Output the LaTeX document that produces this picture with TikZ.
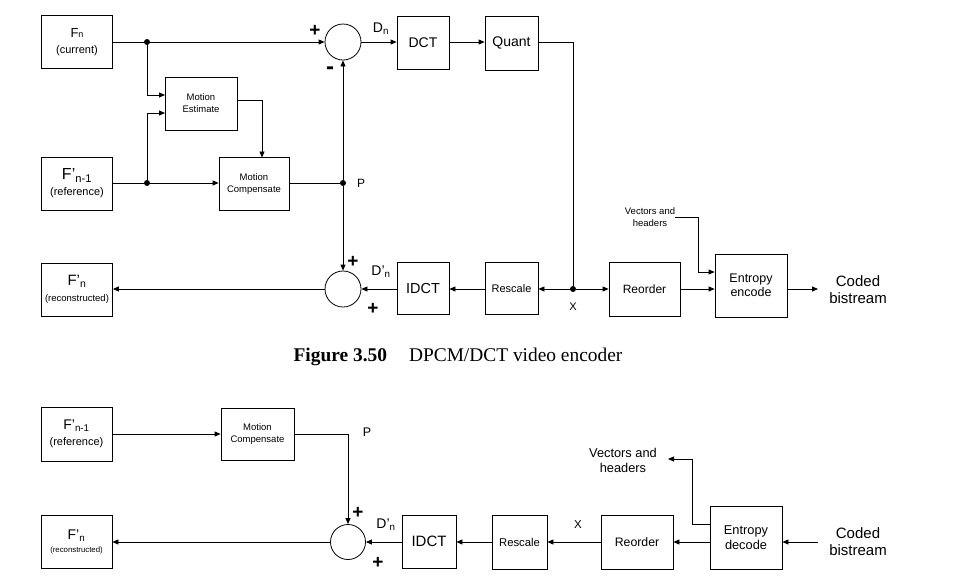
\documentclass[tikz,border=0pt]{standalone}
\usepackage{fontspec}
\setmainfont{Liberation Sans}
\newfontfamily\capfont{Liberation Serif}
\usetikzlibrary{arrows.meta}
\newcommand\fs[2]{\fontsize{#1}{#2}\selectfont}
\tikzset{
  blk/.style={draw, line width=0.8pt, align=center, inner sep=1pt},
  dot/.style={circle, fill, inner sep=0pt, minimum size=6pt},
  sumc/.style={draw, circle, line width=0.8pt, inner sep=0pt, minimum size=36pt},
  lbl/.style={inner sep=0pt, align=center},
  sgn/.style={inner sep=0pt, font=\fs{19}{19}\bfseries},
  arr/.style={-{Triangle[length=6pt,width=5pt]}, line width=0.8pt},
  ln/.style={line width=0.8pt}
}
\begin{document}
\begin{tikzpicture}[x=1pt,y=-1pt]
\useasboundingbox (0,0) rectangle (971,587);
% ---------------- encoder ----------------
\node[blk, minimum width=71pt, minimum height=53pt, font=\fs{11}{12}] (Fn) at (77,42) {\fs{13}{14}F{\fs{9}{9}n}\\[4pt](current)};
\node[blk, minimum width=71pt, minimum height=53pt, font=\fs{11}{12}] (Fnm1) at (77,183.5) {\fs{16}{15}F’\textsubscript{n-1}\\[4pt](reference)};
\node[blk, minimum width=71pt, minimum height=53pt, font=\fs{9.5}{10}] (Fr) at (77,289.5) {\fs{15}{13}F’\textsubscript{n}\\[6pt](reconstructed)};
\node[blk, minimum width=72pt, minimum height=53pt, font=\fs{9.5}{12}] (ME) at (201,103.5) {Motion\\Estimate};
\node[blk, minimum width=70pt, minimum height=53pt, font=\fs{9.5}{12}] (MC) at (254,184) {Motion\\Compensate};
\node[sumc] (s1) at (343,42) {};
\node[blk, minimum width=52pt, minimum height=53pt, font=\fs{14}{14}] (DCT) at (423,43) {DCT};
\node[blk, minimum width=53pt, minimum height=54pt, font=\fs{14}{14}] (Q) at (511.5,43) {Quant};
\node[dot] (j1) at (147,42) {};
\node[dot] (j2) at (147,183) {};
\node[dot] (P) at (343,183) {};
\node[dot] (X) at (573,289) {};
\node[sumc] (s2) at (343,289) {};
\node[blk, minimum width=52pt, minimum height=52pt, font=\fs{14.5}{14}] (IDCT) at (423,288.5) {IDCT};
\node[blk, minimum width=53pt, minimum height=52pt, font=\fs{11}{12}] (Rs) at (511.5,288.5) {Rescale};
\node[blk, minimum width=71pt, minimum height=54pt, font=\fs{12}{12}] (Ro) at (644.5,289.5) {Reorder};
\node[blk, minimum width=72pt, minimum height=63pt, font=\fs{12.5}{14}] (EE) at (751,285.5) {Entropy\\encode};
\node[lbl, font=\fs{15}{17}] (cb) at (858,290) {Coded\\bistream};
\node[lbl, font=\fs{9.5}{12}] (vh) at (650,217) {Vectors and\\headers};
\node[sgn] at (315,31) {+};
\node[sgn, font=\fs{24}{24}\bfseries] at (330,71) {-};
\node[lbl, font=\fs{14}{14}] at (381,29) {D\textsubscript{n}};
\node[lbl, font=\fs{12}{12}] at (361,183) {P};
\node[sgn] at (353,262) {+};
\node[sgn] at (373,309) {+};
\node[lbl, font=\fs{14}{14}] at (381,272) {D’\textsubscript{n}};
\node[lbl, font=\fs{11}{11}] at (573,307) {X};
\coordinate (me1) at (165,95);
\coordinate (me2) at (165,113);
\coordinate (meo) at (237,100);
\coordinate (mct) at (262,157.5);
\coordinate (vhc) at (698,272);
\coordinate (cbin) at (818,289);
\draw[arr] (Fn) -- (s1);
\draw[arr] (j1) |- (me1);
\draw[arr] (j2) |- (me2);
\draw[arr] (Fnm1.east |- j2) -- (MC.west |- j2);
\draw[arr] (meo) -| (mct);
\draw[ln] (MC.east |- P) -- (P);
\draw[arr] (P) -- (s1);
\draw[arr] (P) -- (s2);
\draw[arr] (s1) -- (s1 -| DCT.west);
\draw[arr] (DCT.east |- s1) -- (s1 -| Q.west);
\draw[ln] (Q.east |- s1) -| (X);
\draw[arr] (X) -- (X -| Rs.east);
\draw[arr] (X) -- (X -| Ro.west);
\draw[arr] (Rs.west |- X) -- (X -| IDCT.east);
\draw[arr] (IDCT.west |- X) -- (s2);
\draw[arr] (s2) -- (s2 -| Fr.east);
\draw[arr] (Ro.east |- X) -- (X -| EE.west);
\draw[arr] (vh.east) -| (vhc) -- (vhc -| EE.west);
\draw[arr] (EE.east |- X) -- (cbin);
% caption
\node[lbl, font=\capfont\fs{19.4}{19}] at (458,357) {\textbf{Figure 3.50}\hspace{22pt}DPCM/DCT video encoder};
% ---------------- decoder ----------------
\node[blk, minimum width=71pt, minimum height=54pt, font=\fs{11}{12}] (Fnm1b) at (76.5,434) {\fs{14}{14}F'\textsubscript{n-1}\\[4pt](reference)};
\node[blk, minimum width=73pt, minimum height=52pt, font=\fs{9.5}{12}] (MCb) at (257.5,434) {Motion\\Compensate};
\node[sumc, minimum size=35pt] (s3) at (348,542) {};
\node[blk, minimum width=71pt, minimum height=53pt, font=\fs{7.8}{8}] (Frb) at (76.5,541.5) {\fs{14}{12}F'\textsubscript{n}\\[5pt](reconstructed)};
\node[blk, minimum width=54pt, minimum height=53pt, font=\fs{15}{15}] (IDCTb) at (429,541.5) {IDCT};
\node[blk, minimum width=55pt, minimum height=54pt, font=\fs{11.3}{12}] (Rsb) at (519.5,542) {Rescale};
\node[blk, minimum width=72pt, minimum height=54pt, font=\fs{12.3}{12}] (Rob) at (637,542) {Reorder};
\node[blk, minimum width=72pt, minimum height=63pt, font=\fs{12.8}{15}] (EDb) at (746,537.5) {Entropy\\decode};
\node[lbl, font=\fs{15}{17}] (cbb) at (858,542) {Coded\\bistream};
\node[lbl, font=\fs{12.8}{15}] (vhb) at (623,460) {Vectors and\\headers};
\node[lbl, font=\fs{12.5}{12}] at (367,432) {P};
\node[lbl, font=\fs{11.5}{11}] at (578,525) {X};
\node[sgn] at (358,513) {+};
\node[sgn] at (378,563) {+};
\node[lbl, font=\fs{14}{14}] at (386,525) {D'\textsubscript{n}};
\coordinate (cbin2) at (818,542);
\coordinate (edo) at (746,524);
\coordinate (vc2) at (692,459);
\coordinate (vha) at (668,459);
\draw[arr] (Fnm1b) -- (MCb);
\draw[arr] (MCb) -| (s3);
\draw[arr] (cbin2) -- (cbin2 -| EDb.east);
\draw[arr] (EDb.west |- edo) -| (vc2) -- (vha);
\draw[arr] (EDb.west |- Rob) -- (Rob);
\draw[arr] (Rob) -- (Rsb);
\draw[arr] (Rsb) -- (IDCTb.east |- Rsb);
\draw[arr] (IDCTb.west |- s3) -- (s3);
\draw[arr] (s3) -- (s3 -| Frb.east);
\end{tikzpicture}
\end{document}
